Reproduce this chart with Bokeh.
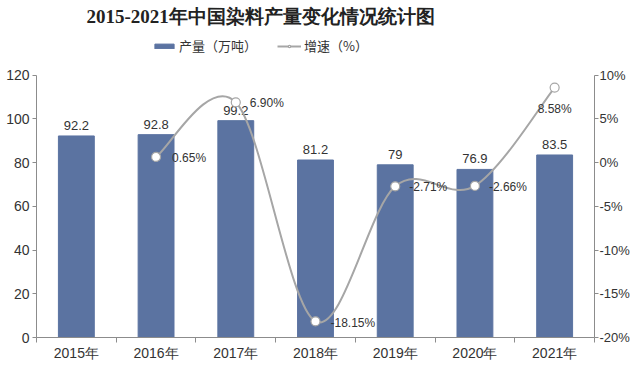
from bokeh.plotting import figure
from bokeh.models import (Range1d, LinearAxis, FixedTicker, Legend, LegendItem,
                          ColumnDataSource, Title)
from bokeh.core.properties import value
from bokeh.embed import file_html
from bokeh.resources import INLINE

# ---------------- data ----------------
years = ["2015年", "2016年", "2017年", "2018年", "2019年", "2020年", "2021年"]
output = [92.2, 92.8, 99.2, 81.2, 79, 76.9, 83.5]
output_labels = ["92.2", "92.8", "99.2", "81.2", "79", "76.9", "83.5"]
growth_years = ["2016年", "2017年", "2018年", "2019年", "2020年", "2021年"]
growth = [0.65, 6.90, -18.15, -2.71, -2.66, 8.58]
growth_labels = ["0.65%", "6.90%", "-18.15%", "-2.71%", "-2.66%", "8.58%"]
left_ticks = [0, 20, 40, 60, 80, 100, 120]
right_ticks = [-20, -15, -10, -5, 0, 5, 10]
right_tick_labels = ["-20%", "-15%", "-10%", "-5%", "0%", "5%", "10%"]
left_min, left_max = 0, 120
right_min, right_max = -20, 10

# ---------------- style / layout ----------------
BAR = "#5b73a1"
LINE = "#a6a6a6"
TXT = "#333333"
AX = "#8c8c8c"
FONT = "Noto Sans CJK SC"
NUMFONT = "Liberation Sans"
W, H = 632, 363
TOP, BOTTOM, LEFT, RIGHT = 28, 24, 36, 36     # borders (px)
DATA_TOP = 75                                  # canvas y of the 120 / 10% level
growth_dx = [16, 14, 15, 14, 14, -17]
growth_dy = [1, 1, 2, 1, 1, 21]

frame_h = H - TOP - BOTTOM
data_h = H - BOTTOM - DATA_TOP
k = frame_h / data_h
y_end = left_min + (left_max - left_min) * k
r_end = right_min + (right_max - right_min) * k

xc = [years.index(y) + 0.5 for y in years]
gx = [years.index(y) + 0.5 for y in growth_years]

p = figure(width=W, height=H, output_backend="svg", toolbar_location=None,
           x_range=Range1d(0, len(years)), y_range=Range1d(left_min, y_end),
           min_border_left=LEFT, min_border_right=RIGHT, min_border_bottom=BOTTOM,
           min_border_top=TOP)
p.extra_y_ranges = {"pct": Range1d(right_min, r_end)}
p.outline_line_color = None
p.xgrid.visible = False
p.ygrid.visible = False

# bars
bars = p.vbar(x=xc, top=output, width=0.45, color=BAR)
p.text(x=xc, y=output, text=output_labels, text_align="center",
       text_baseline="bottom", y_offset=-6, text_font=value(NUMFONT),
       text_font_size="13px", text_color=TXT)

# smooth line (Catmull-Rom -> bezier)
n = len(gx)
x0, y0, x1, y1, cx0, cy0, cx1, cy1 = [], [], [], [], [], [], [], []
for i in range(n - 1):
    pxm, pym = (gx[i - 1], growth[i - 1]) if i > 0 else (gx[i], growth[i])
    px2, py2 = (gx[i + 2], growth[i + 2]) if i + 2 < n else (gx[i + 1], growth[i + 1])
    x0.append(gx[i]); y0.append(growth[i])
    x1.append(gx[i + 1]); y1.append(growth[i + 1])
    cx0.append(gx[i] + (gx[i + 1] - pxm) / 6); cy0.append(growth[i] + (growth[i + 1] - pym) / 6)
    cx1.append(gx[i + 1] - (px2 - gx[i]) / 6); cy1.append(growth[i + 1] - (py2 - growth[i]) / 6)
curve = p.bezier(x0=x0, y0=y0, x1=x1, y1=y1, cx0=cx0, cy0=cy0, cx1=cx1, cy1=cy1,
                 line_color=LINE, line_width=2, y_range_name="pct")
pts = p.scatter(x=gx, y=growth, size=9, fill_color="white", line_color=LINE,
                line_width=1.2, y_range_name="pct")
src = ColumnDataSource(dict(x=gx, y=growth, t=growth_labels, dx=growth_dx, dy=growth_dy))
p.text(x="x", y="y", text="t", x_offset="dx", y_offset="dy", source=src,
       text_align="left", text_baseline="middle", text_font=value(NUMFONT),
       text_font_size="12px", text_color=TXT, y_range_name="pct")

# axes
p.xaxis.ticker = FixedTicker(ticks=xc, minor_ticks=list(range(len(years) + 1)))
p.xaxis.major_label_overrides = {x: y for x, y in zip(xc, years)}
p.xaxis.major_tick_out = 0
p.xaxis.major_tick_in = 0
p.xaxis.minor_tick_out = 5
p.xaxis.minor_tick_in = 0
p.xaxis.minor_tick_line_color = AX
p.xaxis.axis_line_color = AX
p.xaxis.major_label_text_font = NUMFONT
p.xaxis.major_label_text_font_size = "14px"
p.xaxis.major_label_text_color = TXT
p.xaxis.major_label_standoff = 2
p.xaxis.axis_label_standoff = 0

p.yaxis.ticker = FixedTicker(ticks=left_ticks)
p.yaxis.bounds = (left_min, left_max)
p.yaxis.axis_line_color = AX
p.yaxis.major_tick_line_color = AX
p.yaxis.major_tick_out = 4
p.yaxis.major_tick_in = 0
p.yaxis.minor_tick_line_color = None
p.yaxis.major_label_text_font = NUMFONT
p.yaxis.major_label_text_font_size = "14px"
p.yaxis.major_label_text_color = TXT
p.yaxis.major_label_standoff = 3
p.yaxis.axis_label_standoff = 0

ra = LinearAxis(y_range_name="pct", ticker=FixedTicker(ticks=right_ticks),
                bounds=(right_min, right_max),
                major_label_overrides={t: l for t, l in zip(right_ticks, right_tick_labels)},
                axis_line_color=AX, major_tick_line_color=AX, major_tick_out=4,
                major_tick_in=0, minor_tick_line_color=None,
                major_label_text_font=NUMFONT, major_label_text_font_size="13px",
                major_label_text_color=TXT, major_label_standoff=1,
                axis_label_standoff=0)
p.add_layout(ra, "right")

# legend (inside the frame, above the data area)
legend = Legend(items=[LegendItem(label="产量（万吨）", renderers=[bars]),
                       LegendItem(label="增速（%）", renderers=[curve, pts])],
                orientation="horizontal", location=(116, H - BOTTOM - 45 - 12),
                label_text_font=FONT, label_text_font_size="13px",
                label_text_color=TXT, glyph_width=24, glyph_height=6,
                label_standoff=3, spacing=20, padding=2, margin=0,
                border_line_color=None, background_fill_alpha=0)
p.add_layout(legend)

p.add_layout(Title(text="2015-2021年中国染料产量变化情况统计图", align="left",
                   offset=50, standoff=0, vertical_align="top",
                   text_font="Liberation Serif", text_font_size="19px",
                   text_font_style="bold", text_color="#222222"), "above")

open("out.html", "w").write(file_html(p, INLINE))
